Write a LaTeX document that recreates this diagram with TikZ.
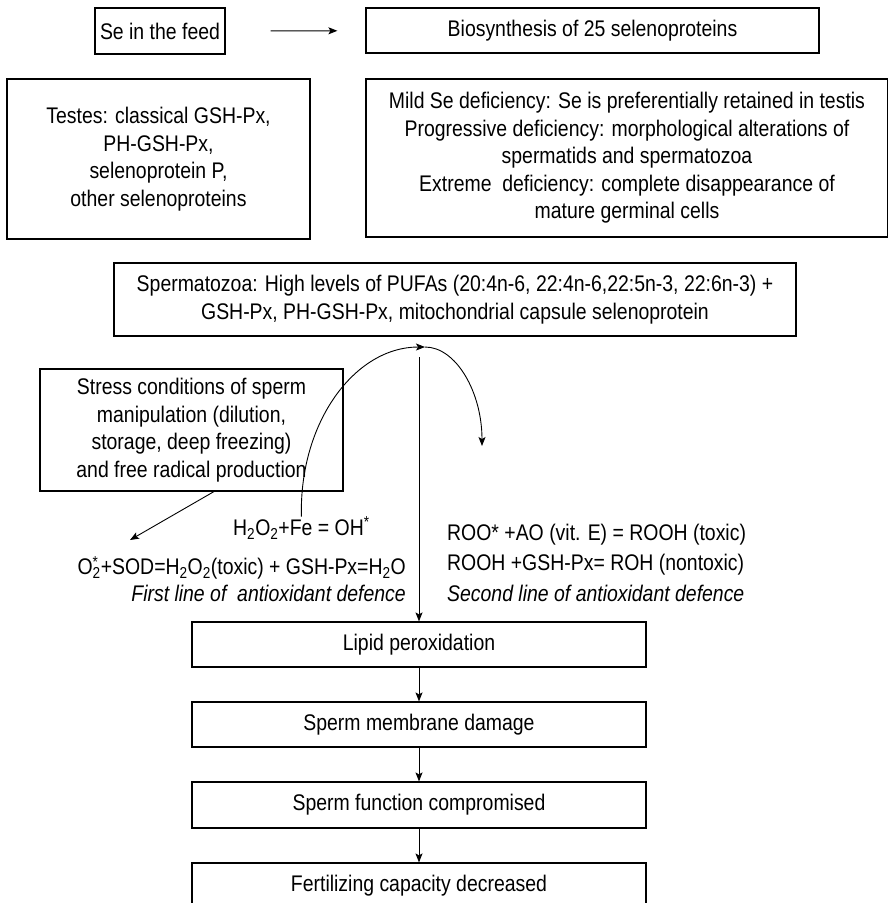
\documentclass[tikz,border=0pt]{standalone}
\usepackage{fontspec}
\setmainfont{Liberation Sans}[FakeStretch=0.86]
\usetikzlibrary{arrows.meta}

\tikzset{%
    box/.style={draw, line width=1.2pt, inner sep=0pt, align=center}
}

\begin{document}
\begin{tikzpicture}[
        x=1pt, y=-1pt,
        font=\fontsize{22.6}{27.5}\selectfont,
        conn/.style={line width=0.9pt, -{Stealth[length=9pt,width=7pt,inset=2pt]}},
        plain/.style={line width=0.9pt},
        txt/.style={inner sep=0pt}
        ]
        \useasboundingbox (0,0) rectangle (887,903);

        % top row
        \node[box, minimum width=130pt, minimum height=46pt] (feed) at (160,31) {Se in the feed};
        \node[box, minimum width=453pt, minimum height=45pt] (biosyn) at (592.5,30.5) {Biosynthesis of 25 selenoproteins};
        \node[box, minimum width=303pt, minimum height=160pt] (testes) at (158.5,159)
            {Testes: classical GSH-Px,\\ PH-GSH-Px,\\ selenoprotein P,\\ other selenoproteins};
        \node[box, minimum width=522pt, minimum height=158pt] (defic) at (627,158)
            {Mild Se deficiency: Se is preferentially retained in testis\\
             Progressive deficiency: morphological alterations of\\
             spermatids and spermatozoa\\
             Extreme\ \ deficiency: complete disappearance of\\
             mature germinal cells};

        \node[box, minimum width=682pt, minimum height=73pt] (sperm) at (455,299.5)
            {Spermatozoa: High levels of PUFAs (20:4n-6, 22:4n-6,22:5n-3, 22:6n-3) +\\
             GSH-Px, PH-GSH-Px, mitochondrial capsule selenoprotein};
        \node[box, minimum width=303pt, minimum height=122pt] (stress) at (191.5,430)
            {Stress conditions of sperm\\ manipulation (dilution,\\ storage, deep freezing)\\ and free radical production};

        % reactions
        \node[txt, anchor=west] (fenton) at (233,528) {H\textsubscript{2}O\textsubscript{2}+Fe = OH\textsuperscript{*}};
        \node[txt, anchor=east] (sod) at (406,568)
            {O\rlap{\textsuperscript{*}}\textsubscript{2}+SOD=H\textsubscript{2}O\textsubscript{2}(toxic) + GSH-Px=H\textsubscript{2}O};
        \node[txt, anchor=east] (first) at (406,593) {\itshape First line of\ \ antioxidant defence};
        \node[txt, anchor=west] (roo) at (447,535) {ROO* +AO (vit. E) = ROOH (toxic)};
        \node[txt, anchor=west] (rooh) at (447,565) {ROOH +GSH-Px= ROH (nontoxic)};
        \node[txt, anchor=west] (second) at (447,593) {\itshape Second line of antioxidant defence};

        % chain of damage
        \node[box, minimum width=454pt, minimum height=45pt] (lipid) at (419,644.5) {Lipid peroxidation};
        \node[box, minimum width=454pt, minimum height=45pt] (membr) at (419,724.5) {Sperm membrane damage};
        \node[box, minimum width=454pt, minimum height=46pt] (funct) at (419,805) {Sperm function compromised};
        \node[box, minimum width=454pt, minimum height=45pt] (fertil) at (419,885.5) {Fertilizing capacity decreased};

        \coordinate (apex) at (425,347);
        \coordinate (split) at (419,357);
        \coordinate (drop) at (482,446);
        \coordinate (o2) at (130,540);

        \draw[conn, shorten <=45pt, shorten >=28pt] (feed) -- (biosyn);
        \draw[conn] (fenton.north) .. controls (299,422) and (355,347) .. (apex);
        \draw[conn] (apex) .. controls (456,347) and (482,392) .. (drop);
        \draw[conn] (stress.290) -- (o2);
        \draw[conn] (split) -- (lipid);
        \draw[conn] (lipid) -- (membr);
        \draw[conn] (membr) -- (funct);
        \draw[conn] (funct) -- (fertil);
    \end{tikzpicture}
\end{document}
